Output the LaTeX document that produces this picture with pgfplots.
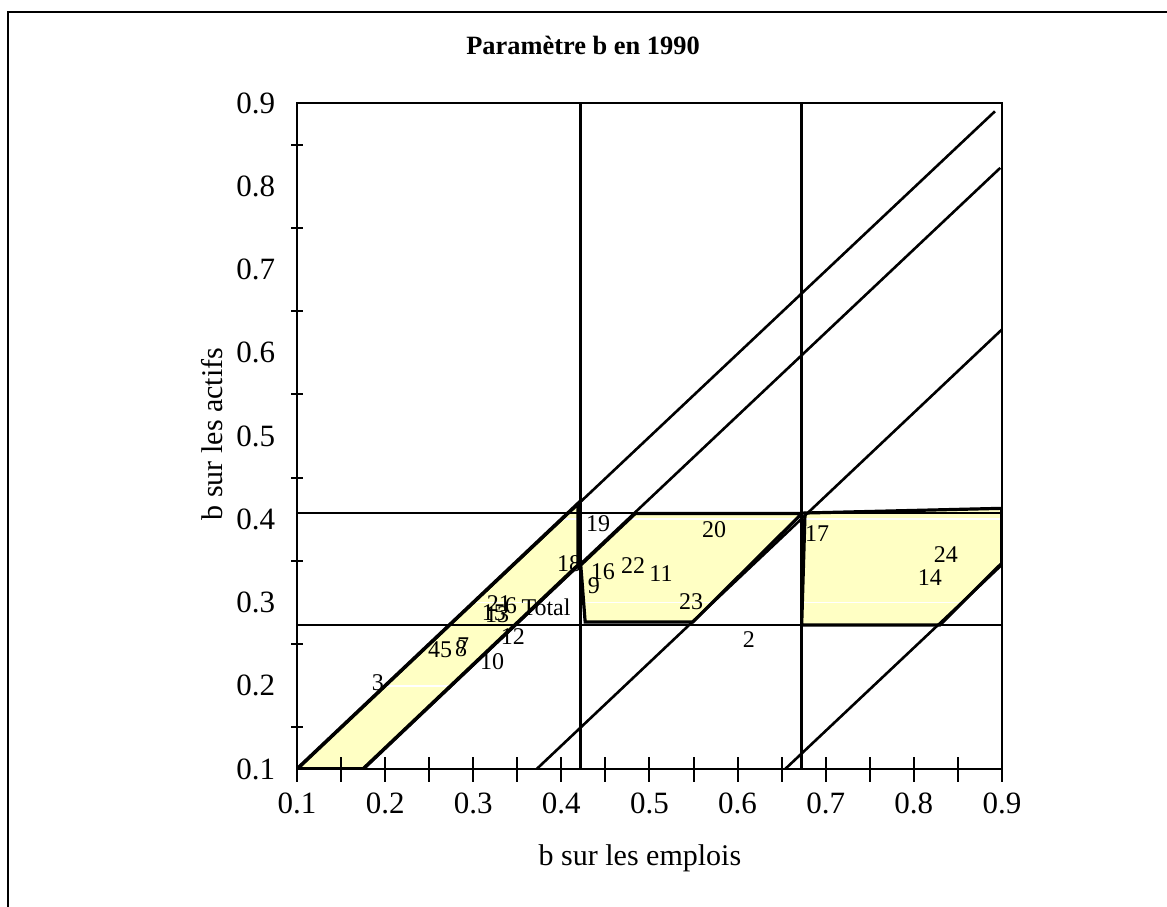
\documentclass[border=0pt]{standalone}
\usepackage{fontspec}
\setmainfont{Liberation Serif}
\usepackage{pgfplots}
\pgfplotsset{compat=1.18}
\definecolor{paleyellow}{RGB}{255,255,196}

\pgfplotstableread{
x y label
0.4416 0.3943 19
0.5732 0.3871 20
0.6901 0.3823 17
0.8364 0.3571 24
0.8183 0.3294 14
0.4087 0.3462 18
0.4472 0.3366 16
0.4813 0.3438 22
0.5130 0.3342 11
0.4370 0.3198 9
0.5471 0.3006 23
0.3292 0.2982 21
0.3428 0.2958 6
0.3826 0.2946 Total
0.3235 0.2874 15
0.3270 0.2850 13
0.3451 0.2586 12
0.2555 0.2429 4
0.2691 0.2429 5
0.2861 0.2441 8
0.2884 0.2477 7
0.3213 0.2285 10
0.1919 0.2033 3
0.6129 0.2550 2
}\labels

\begin{document}
\begin{tikzpicture}
\useasboundingbox (0,0) rectangle (583.5pt,453pt);
\draw[line width=1pt] (4pt,-5pt) -- (4pt,447pt) -- (600pt,447pt);
\begin{axis}[
  at={(148.5pt,68.5pt)}, anchor=south west,
  scale only axis, width=352.5pt, height=333pt,
  xmin=0.1, xmax=0.9, ymin=0.1, ymax=0.9,
  axis on top,
  axis line style={line width=1pt},
  xtick={0.1,0.15,0.2,0.25,0.3,0.35,0.4,0.45,0.5,0.55,0.6,0.65,0.7,0.75,0.8,0.85,0.9},
  xticklabels={0.1,,0.2,,0.3,,0.4,,0.5,,0.6,,0.7,,0.8,,0.9},
  ytick={0.1,0.2,0.3,0.4,0.5,0.6,0.7,0.8,0.9},
  yticklabels={0.1,0.2,0.3,0.4,0.5,0.6,0.7,0.8,0.9},
  minor y tick num=1,
  xtick pos=bottom, ytick pos=left,
  tick align=center,
  major tick length=12.5pt, minor tick length=6pt,
  tick style={line width=1pt, black},
  major y tick style={draw=none},
  ticklabel style={font=\fontsize{15.5}{18}\selectfont, inner sep=0pt},
  xticklabel style={anchor=north, yshift=-5.5pt},
  yticklabel style={anchor=east, xshift=-4.5pt},
  xlabel={b sur les emplois},
  ylabel={b sur les actifs},
  label style={font=\fontsize{15}{18}\selectfont},
  xlabel style={at={(axis description cs:0.4865,-0.1336)}, anchor=center},
  ylabel style={at={(axis description cs:-0.1206,0.503)}, anchor=center},
  title={Paramètre b en 1990},
  title style={at={(axis description cs:0.4057,1.069)}, anchor=center,
    font=\bfseries\fontsize{13.2}{16}\selectfont},
]
% yellow zones
\addplot[fill=paleyellow, draw=none] coordinates {(0.1,0.1) (0.175,0.1) (0.419,0.345) (0.419,0.419)} -- cycle;
\addplot[fill=paleyellow, draw=none] coordinates {(0.422,0.345) (0.484,0.407) (0.673,0.407) (0.549,0.2765) (0.427,0.2765)} -- cycle;
\addplot[fill=paleyellow, draw=none] coordinates {(0.6765,0.4075) (0.8996,0.4131) (0.8996,0.347) (0.8296,0.273) (0.6727,0.273)} -- cycle;
% white grid over the fills
\addplot[white, line width=0.9pt] coordinates {(0.1,0.2) (0.9,0.2)};
\addplot[white, line width=0.9pt] coordinates {(0.1,0.3) (0.9,0.3)};
\addplot[white, line width=0.9pt] coordinates {(0.1,0.4) (0.9,0.4)};
% zone outlines
\addplot[black, line width=1.8pt] coordinates {(0.1,0.1) (0.175,0.1) (0.419,0.345) (0.419,0.419)} -- cycle;
\addplot[black, line width=1.6pt] coordinates {(0.422,0.345) (0.484,0.407) (0.673,0.407) (0.549,0.2765) (0.427,0.2765)} -- cycle;
\addplot[black, line width=1.6pt] coordinates {(0.6765,0.4075) (0.8996,0.4131) (0.8996,0.347) (0.8296,0.273) (0.6727,0.273)} -- cycle;
% limits
\addplot[black, line width=1pt] coordinates {(0.1,0.407) (0.9,0.407)};
\addplot[black, line width=1pt] coordinates {(0.1,0.273) (0.9,0.273)};
\addplot[black, line width=1.4pt] coordinates {(0.422,0.1) (0.422,0.9)};
\addplot[black, line width=1.4pt] coordinates {(0.6727,0.1) (0.6727,0.9)};
% diagonals
\addplot[black, line width=1.3pt] coordinates {(0.1,0.1) (0.892,0.89)};
\addplot[black, line width=1.3pt] coordinates {(0.175,0.1) (0.898,0.822)};
\addplot[black, line width=1.3pt] coordinates {(0.372,0.1) (0.9,0.628)};
\addplot[black, line width=1.3pt] coordinates {(0.654,0.1) (0.8996,0.345)};
% point labels
\addplot[draw=none,
  nodes near coords, point meta=explicit symbolic,
  nodes near coords style={anchor=center, inner sep=0pt,
    font=\fontsize{12}{14}\selectfont}]
  table[x=x, y=y, meta=label] {\labels};
\end{axis}
\end{tikzpicture}
\end{document}
